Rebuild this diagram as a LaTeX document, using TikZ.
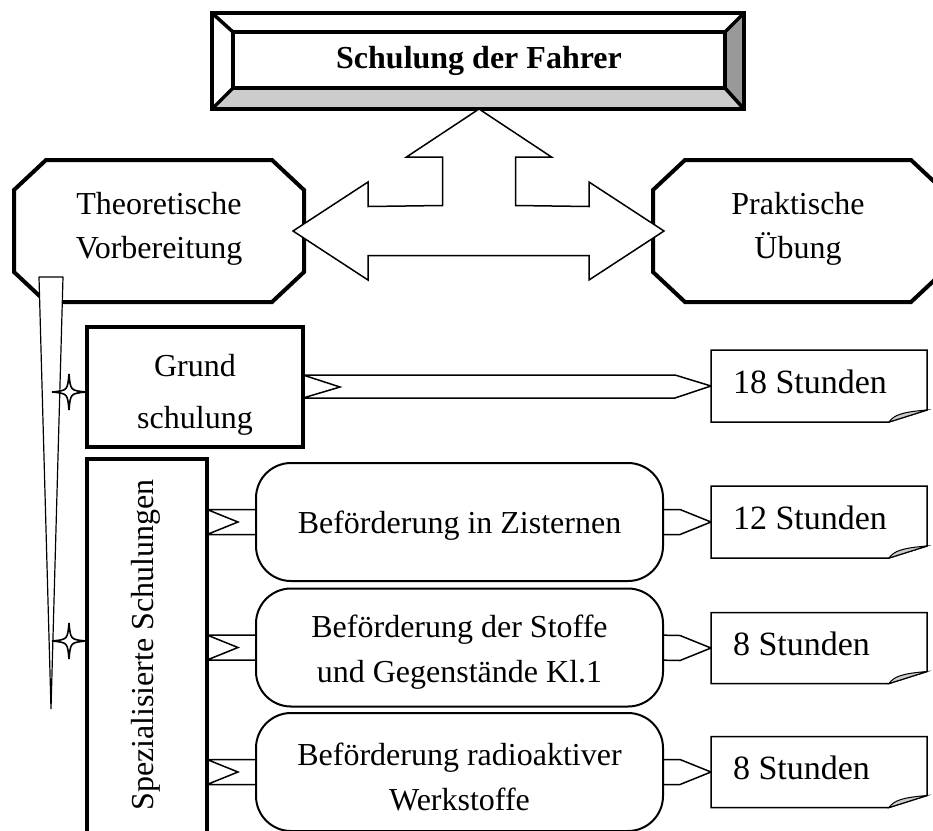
\documentclass[tikz,border=0pt]{standalone}
\usepackage{fontspec}
\setmainfont{Liberation Serif}
\usetikzlibrary{calc}
\pgfdeclarelayer{behind}
\pgfsetlayers{behind,main}
\definecolor{bevelgray}{HTML}{CCCCCC}
\definecolor{beveldark}{HTML}{999999}
\tikzset{
  geom/.style={inner sep=0pt, outer sep=0pt},
  txt/.style={font=\fontsize{32}{44}\selectfont, align=center, inner sep=0pt, outer sep=0pt},
  thickbox/.style={geom, draw, line width=4pt, fill=white},
  rbox/.style={geom, draw, line width=2pt, fill=white, rounded corners=35pt, minimum width=407pt, minimum height=118pt},
  octline/.style={draw, line width=4pt, fill=white, line join=miter},
  bevelline/.style={draw, line width=3.5pt},
  blockarrow/.style={draw, line width=1.5pt, fill=white, line join=miter},
  stline/.style={draw, line width=1.5pt, fill=white, line join=miter},
  foldline/.style={draw, line width=1pt, fill=bevelgray},
  wedgeline/.style={draw, line width=1.2pt, fill=white, line join=bevel},
  starline/.style={draw, line width=1.6pt, fill=white},
  sttxt/.style={font=\fontsize{34}{40}\selectfont, anchor=base west, inner sep=0pt, outer sep=0pt},
}
\newcommand\octagonfrom[1]{%
  \draw[octline] ($(#1.north west)+(32,0)$) -- ($(#1.north east)+(-32,0)$) -- ($(#1.north east)+(0,30)$) -- ($(#1.south east)+(0,-30)$) -- ($(#1.south east)+(-32,0)$) -- ($(#1.south west)+(32,0)$) -- ($(#1.south west)+(0,-30)$) -- ($(#1.north west)+(0,30)$) -- cycle;}
\newcommand\fourstar[1]{%
  \draw[starline] ($(#1)+(17,0)$) .. controls ($(#1)+(1.5,-1.5)$) .. ($(#1)+(0,-18)$) .. controls ($(#1)+(-1.5,-1.5)$) .. ($(#1)+(-17,0)$) .. controls ($(#1)+(-1.5,1.5)$) .. ($(#1)+(0,18)$) .. controls ($(#1)+(1.5,1.5)$) .. ($(#1)+(17,0)$) -- cycle;}
\newcommand\stundenbox[4]{% name, center, height, text
  \node[geom, minimum width=216pt, minimum height=#3pt] (#1) at (#2) {};
  \draw[stline] (#1.north west) -- (#1.north east) -- ($(#1.south east)+(0,-12)$) -- ($(#1.south east)+(-38,0)$) -- (#1.south west) -- cycle;
  \draw[foldline] ($(#1.south east)+(-38,0)$) .. controls ($(#1.south east)+(-33,-7)$) and ($(#1.south east)+(-25,-10)$) .. ($(#1.south east)+(0,-12)$) -- cycle;
  \node[sttxt] (#1t) at ($(#1.west)+(22,7)$) {#4};}
\newcommand\spezarrow[1]{%
  \draw[blockarrow] ($(spez.east|-#1.west)+(0,-12.5)$) -- ($(#1.west)+(3,-12.5)$) -- ($(#1.west)+(3,12.5)$) -- ($(spez.east|-#1.west)+(0,12.5)$) -- ($(spez.east|-#1.west)+(31,0)$) -- cycle;}
\newcommand\stunarrow[2]{%
  \draw[blockarrow] ($(#1.east)+(-8,-12.5)$) -- ($(#2.west)+(-31,-12.5)$) -- (#2.west) -- ($(#2.west)+(-31,12.5)$) -- ($(#1.east)+(-8,12.5)$) -- cycle;}

\begin{document}
\begin{tikzpicture}[x=1pt, y=-1pt]
\useasboundingbox (0,0) rectangle (933,830);
\clip (0,0) rectangle (933,830);

% title bevel box
\node[geom, minimum width=532pt, minimum height=96pt] (titlebox) at (478,61) {};
\fill[white] (212,13) rectangle (744,109);
\fill[bevelgray] (212,109) -- (744,109) -- (725,88) -- (233,88) -- cycle;
\fill[beveldark] (744,13) -- (744,109) -- (725,88) -- (725,32) -- cycle;
\draw[bevelline] (212,13) rectangle (744,109);
\draw[bevelline] (233,32) rectangle (725,88);
\draw[bevelline] (212,13) -- (233,32) (744,13) -- (725,32) (744,109) -- (725,88) (212,109) -- (233,88);
\node[inner sep=0pt, font=\bfseries\fontsize{32}{40}\selectfont] (title) at (479,61) {Schulung der Fahrer};

% octagons
\node[geom, minimum width=290pt, minimum height=142pt] (theo) at (159,231) {};
\octagonfrom{theo}
\node[txt] (theotxt) at (159,229) {Theoretische\\Vorbereitung};
\node[geom, minimum width=290pt, minimum height=142pt] (prak) at (798,231) {};
\octagonfrom{prak}
\node[txt] (praktxt) at (798,229) {Praktische\\Übung};

% three-headed block arrow
\coordinate (L) at ($(theo.east)+(-11,0)$);
\coordinate (R) at ($(prak.west)+(11,0)$);
\coordinate (U) at ($(titlebox.south)+(1,0)$);
\draw[blockarrow] (L) -- ($(L)+(75,-49)$) -- ($(L)+(75,-24.5)$) -- ($(U)+(-36.5,96.5)$) -- ($(U)+(-36.5,48)$) -- ($(U)+(-72.5,48)$) -- (U) -- ($(U)+(72.5,48)$) -- ($(U)+(36.5,48)$) -- ($(U)+(36.5,96.5)$) -- ($(R)+(-75,-24.5)$) -- ($(R)+(-75,-49)$) -- (R) -- ($(R)+(-75,49)$) -- ($(R)+(-75,24.5)$) -- ($(L)+(75,24.5)$) -- ($(L)+(75,49)$) -- cycle;

% tapered wedge
\coordinate (w1) at (39,277);
\coordinate (w2) at (63,277);
\coordinate (w3) at (51,709);
\draw[wedgeline] (w1) -- (w2) -- (w3) -- cycle;

% Grund / Spez boxes
\node[thickbox, minimum width=216pt, minimum height=120pt] (grund) at (195,387) {};
\node[txt, font=\fontsize{32}{52}\selectfont] (grundtxt) at (195,395) {Grund\\schulung};
\node[thickbox, minimum width=120pt, minimum height=374pt] (spez) at (147,646) {};
\node[txt, rotate=90] (speztxt) at (146,645) {Spezialisierte Schulungen};

% stars
\coordinate (st1) at ($(grund.west)+(-18,5)$);
\coordinate (st2) at ($(spez.west)+(-18,-5)$);
\fourstar{st1}
\fourstar{st2}

% hour boxes
\stundenbox{s18}{819,386}{72}{18 Stunden}
\stundenbox{s12}{819,522}{72}{12 Stunden}
\stundenbox{s8a}{819,648}{71}{8 Stunden}
\stundenbox{s8b}{819,772}{71}{8 Stunden}

% rounded boxes
\node[rbox] (b1) at (459.5,522) {};
\node[txt] (b1t) at (459.5,526) {Beförderung in Zisternen};
\node[rbox] (b2) at (459.5,647.5) {};
\node[txt, font=\fontsize{32}{45}\selectfont] (b2t) at (459.5,652) {Beförderung der Stoffe\\und Gegenstände Kl.1};
\node[rbox] (b3) at (459.5,772) {};
\node[txt, font=\fontsize{32}{45}\selectfont] (b3t) at (459.5,776.5) {Beförderung radioaktiver\\Werkstoffe};

% connectors behind boxes
\begin{pgfonlayer}{behind}
\draw[blockarrow] ($(grund.east)+(0,-12)$) -- ($(s18.west)+(-36,-11)$) -- (s18.west) -- ($(s18.west)+(-36,12)$) -- ($(grund.east)+(0,11)$) -- ($(grund.east)+(37,0)$) -- cycle;
\spezarrow{b1}
\spezarrow{b2}
\spezarrow{b3}
\stunarrow{b1}{s12}
\stunarrow{b2}{s8a}
\stunarrow{b3}{s8b}
\end{pgfonlayer}
\end{tikzpicture}
\end{document}
